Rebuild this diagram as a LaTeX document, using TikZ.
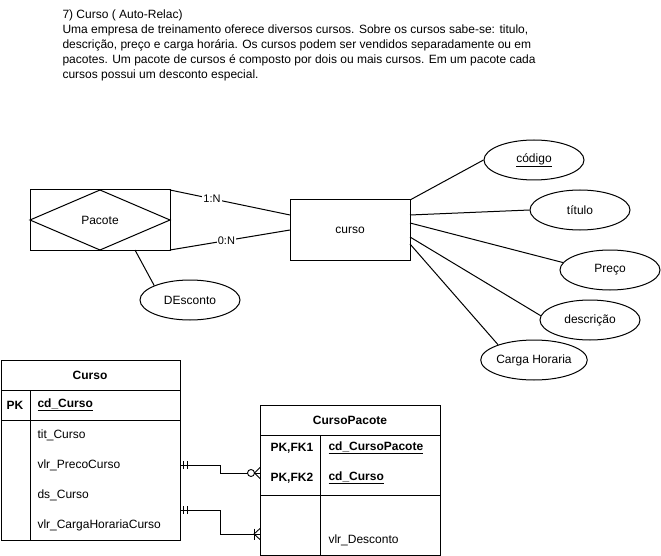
\documentclass[tikz,border=0pt]{standalone}
\usepackage{fontspec}
\setmainfont{Liberation Sans}
\usetikzlibrary{shapes.geometric}
\begin{document}
\begin{tikzpicture}[x=1pt,y=-1pt, line width=1pt, font=\fontsize{12}{14}\selectfont,
  attr/.style={ellipse, draw, minimum width=100pt, minimum height=40pt, inner sep=0pt},
  ent/.style={draw, rectangle, inner sep=0pt, outer sep=0pt},
  lbl/.style={fill=white, inner sep=1pt, font=\fontsize{11}{13}\selectfont},
  txt/.style={inner sep=0pt, anchor=west},
  hdr/.style={inner sep=0pt, font=\fontsize{12}{14}\selectfont\bfseries},
  cmark/.style={line width=0.9pt}
]
\useasboundingbox (0,0) rectangle (661,556);
\fill[white] (0,0) rectangle (661,556);

% description text
\node[anchor=north west, align=left, inner sep=0pt, font=\fontsize{12}{15}\selectfont] (desc) at (62,9)
{7) Curso ( Auto-Relac)\\
Uma empresa de treinamento oferece diversos cursos. Sobre os cursos sabe-se: titulo,\\
descrição, preço e carga horária. Os cursos podem ser vendidos separadamente ou em\\
pacotes. Um pacote de cursos é composto por dois ou mais cursos. Em um pacote cada\\
cursos possui um desconto especial.};

% ER diagram
\node[ent, minimum width=140pt, minimum height=60pt] (pac) at (100,220) {};
\draw (pac.west) -- (pac.north) -- (pac.east) -- (pac.south) -- cycle;
\node (pactxt) at (pac.center) {Pacote};

\node[ent, minimum width=120pt, minimum height=60pt] (curso) at (350,230) {curso};

\draw (pac.north east) -- node[lbl, pos=0.35] {1:N} ([yshift=15pt]curso.west);
\draw (pac.south east) -- node[lbl, pos=0.47] {0:N} (curso.west);

\node[attr] (descto) at (190,300) {DEsconto};
\draw ([xshift=-35pt]pac.south east) -- (descto.158);

\node[attr] (cod) at (534,160) {\underline{código}};
\node[attr] (tit) at (580,210) {título};
\node[attr] (pre) at (610,270) {Preço};
\node[attr] (dsc) at (590,320) {descrição};
\node[attr] (ch) at (534,360) {Carga Horaria};

\draw (curso.north east) -- (cod.west);
\draw ([yshift=-15pt]curso.north east) -- (tit.west);
\draw ([yshift=-23pt]curso.north east) -- (pre.171);
\draw ([yshift=-37pt]curso.north east) -- (dsc.175);
\draw ([yshift=-44pt]curso.north east) -- (ch.157);

% Table Curso
\node[ent, minimum width=179pt, minimum height=180pt, anchor=north west] (tc) at (1,360) {};
\draw (1,390) -- (180,390);
\draw (1,420) -- (180,420);
\draw (30,390) -- (30,540);
\node[hdr] (tch) at (90,375) {Curso};
\node[hdr] (tcpk) at (15,405) {PK};
\node[txt, font=\fontsize{12}{14}\selectfont\bfseries] (tcid) at (37,405) {\underline{cd\_Curso}};
\node[txt] (tc1) at (37,435) {tit\_Curso};
\node[txt] (tc2) at (37,465) {vlr\_PrecoCurso};
\node[txt] (tc3) at (37,495) {ds\_Curso};
\node[txt] (tc4) at (37,525) {vlr\_CargaHorariaCurso};

% Table CursoPacote
\node[ent, minimum width=180pt, minimum height=150pt, anchor=north west] (tp) at (260,405) {};
\draw (260,435) -- (440,435);
\draw (260,495) -- (440,495);
\draw (320,435) -- (320,555);
\node[hdr] (tph) at (350,420) {CursoPacote};
\node[txt, font=\fontsize{12}{14}\selectfont\bfseries] (tpk1) at (270,448) {PK,FK1};
\node[txt, font=\fontsize{12}{14}\selectfont\bfseries] (tpk2) at (270,478) {PK,FK2};
\node[txt, font=\fontsize{12}{14}\selectfont\bfseries] (tpid1) at (328,448) {\underline{cd\_CursoPacote}};
\node[txt, font=\fontsize{12}{14}\selectfont\bfseries] (tpid2) at (328,478) {\underline{cd\_Curso}};
\node[txt] (tp3) at (328,540) {vlr\_Desconto};

% connectors
\coordinate (a1) at (180,465);
\coordinate (b1) at (260,473);
\coordinate (a2) at (180,510);
\coordinate (b2) at (260,534);
\draw (a1) -- ++(40,0) |- (b1);
\draw (a2) -- ++(40,0) |- (b2);
% mandatory one marks
\draw[cmark] (183,461) -- (183,469);
\draw[cmark] (187,461) -- (187,469);
\draw[cmark] (183,506) -- (183,514);
\draw[cmark] (187,506) -- (187,514);
% zero or many
\draw[cmark, fill=white] (251,473) circle (3.5);
\draw[cmark] (260,467.5) -- (254.5,473) -- (260,478.5);
% one or many
\draw[cmark] (254,528.5) -- (254,539.5);
\draw[cmark] (260,528.5) -- (254,534) -- (260,539.5);
\end{tikzpicture}
\end{document}
